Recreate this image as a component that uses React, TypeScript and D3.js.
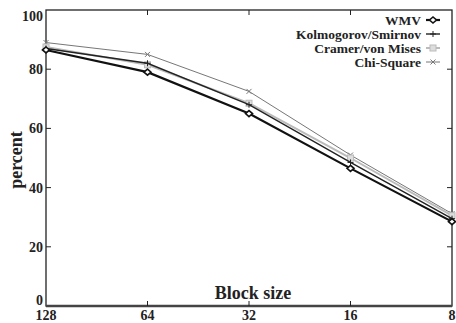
import * as d3 from "d3";

const blockSizes = ["128", "64", "32", "16", "8"];
const wmv = [86.5, 79, 65, 46.5, 28.5];
const kolmogorov = [87, 82, 68, 48.5, 29.5];
const cramer = [87.5, 81.5, 68.5, 50, 30.5];
const chiSquare = [89, 85, 72.5, 51, 31.2];
const yTicks = [0, 20, 40, 60, 80, 100];

const W = 456;
const H = 323;
const m = { left: 46, right: 4, top: 10, bottom: 17 };

const seriesList = [
  { name: "WMV", values: wmv, color: "#111", width: 2.2, marker: "diamond" },
  { name: "Kolmogorov/Smirnov", values: kolmogorov, color: "#222", width: 1.4, marker: "plus" },
  { name: "Cramer/von Mises", values: cramer, color: "#bbb", width: 2, marker: "square" },
  { name: "Chi-Square", values: chiSquare, color: "#777", width: 1, marker: "cross" },
];

function Marker({ kind, x, y, color }: { kind: string; x: number; y: number; color: string }) {
  if (kind === "diamond")
    return (
      <path
        d={`M${x - 3.5},${y} L${x},${y - 3} L${x + 3.5},${y} L${x},${y + 3} Z`}
        fill="#fff"
        stroke={color}
        strokeWidth={1.6}
      />
    );
  if (kind === "plus")
    return (
      <path d={`M${x - 3},${y} H${x + 3} M${x},${y - 3} V${y + 3}`} stroke={color} strokeWidth={1} />
    );
  if (kind === "square")
    return <rect x={x - 3} y={y - 3} width={6} height={6} fill="#ddd" stroke={color} strokeWidth={1} />;
  return (
    <path
      d={`M${x - 2.5},${y - 2.5} L${x + 2.5},${y + 2.5} M${x - 2.5},${y + 2.5} L${x + 2.5},${y - 2.5}`}
      stroke={color}
      strokeWidth={1}
    />
  );
}

export default function App() {
  const x = d3
    .scalePoint<string>()
    .domain(blockSizes)
    .range([m.left, W - m.right]);
  const y = d3
    .scaleLinear()
    .domain([0, 100])
    .range([H - m.bottom, m.top]);

  const line = d3
    .line<number>()
    .x((_, i) => x(blockSizes[i]) as number)
    .y((v) => y(v));

  const font = "'Liberation Serif', 'Times New Roman', serif";

  return (
    <svg
      width={W}
      height={H}
      style={{ position: "absolute", left: 0, top: 0, background: "#fff" }}
      fontFamily={font}
    >
      {/* frame */}
      <rect
        x={m.left}
        y={m.top}
        width={W - m.left - m.right}
        height={H - m.top - m.bottom}
        fill="none"
        stroke="#222"
        strokeWidth={1.3}
      />
      <line x1={m.left} x2={W - m.right} y1={y(0)} y2={y(0)} stroke="#444" strokeWidth={2.5} />

      {/* x ticks */}
      {blockSizes.map((b, i) => (
        <g key={b}>
          {i > 0 && i < blockSizes.length - 1 && (
            <>
              <line x1={x(b)} x2={x(b)} y1={y(0)} y2={y(0) - 5} stroke="#222" strokeWidth={1} />
              <line x1={x(b)} x2={x(b)} y1={y(100)} y2={y(100) + 5} stroke="#222" strokeWidth={1} />
            </>
          )}
          <text
            x={x(b)}
            y={H - 3}
            textAnchor="middle"
            fontSize={14}
            fontWeight="bold"
            fill="#222"
          >
            {b}
          </text>
        </g>
      ))}

      {/* y ticks */}
      {yTicks.map((t) => (
        <g key={t}>
          {t > 0 && t < 100 && (
            <>
              <line x1={m.left} x2={m.left + 5} y1={y(t)} y2={y(t)} stroke="#222" strokeWidth={1} />
              <line x1={W - m.right} x2={W - m.right - 5} y1={y(t)} y2={y(t)} stroke="#222" strokeWidth={1} />
            </>
          )}
          <text
            x={m.left - 3}
            y={y(t)}
            dy={t === 100 ? "0.75em" : t === 0 ? "-0.1em" : "0.35em"}
            textAnchor="end"
            fontSize={14}
            fontWeight="bold"
            fill="#222"
          >
            {t}
          </text>
        </g>
      ))}

      {/* axis titles */}
      <text
        x={(m.left + W - m.right) / 2 + 4}
        y={299}
        textAnchor="middle"
        fontSize={18}
        fontWeight="bold"
        fill="#222"
      >
        Block size
      </text>
      <text
        transform={`translate(22,${(m.top + H - m.bottom) / 2 + 2}) rotate(-90)`}
        textAnchor="middle"
        fontSize={18}
        fontWeight="bold"
        fill="#222"
      >
        percent
      </text>

      {/* series */}
      {[...seriesList].reverse().map((s) => (
        <g key={s.name}>
          <path d={line(s.values) || ""} fill="none" stroke={s.color} strokeWidth={s.width} />
          {s.values.map((v, i) => (
            <Marker key={i} kind={s.marker} x={x(blockSizes[i]) as number} y={y(v)} color={s.color} />
          ))}
        </g>
      ))}

      {/* legend */}
      {seriesList.map((s, i) => {
        const ly = 20 + i * 14;
        return (
          <g key={s.name}>
            <text x={421} y={ly} dy="0.35em" textAnchor="end" fontSize={13.5} fontWeight="bold" fill="#222">
              {s.name}
            </text>
            <line x1={426} x2={440} y1={ly} y2={ly} stroke={s.color} strokeWidth={s.width} />
            <Marker kind={s.marker} x={433} y={ly} color={s.color} />
          </g>
        );
      })}
    </svg>
  );
}
